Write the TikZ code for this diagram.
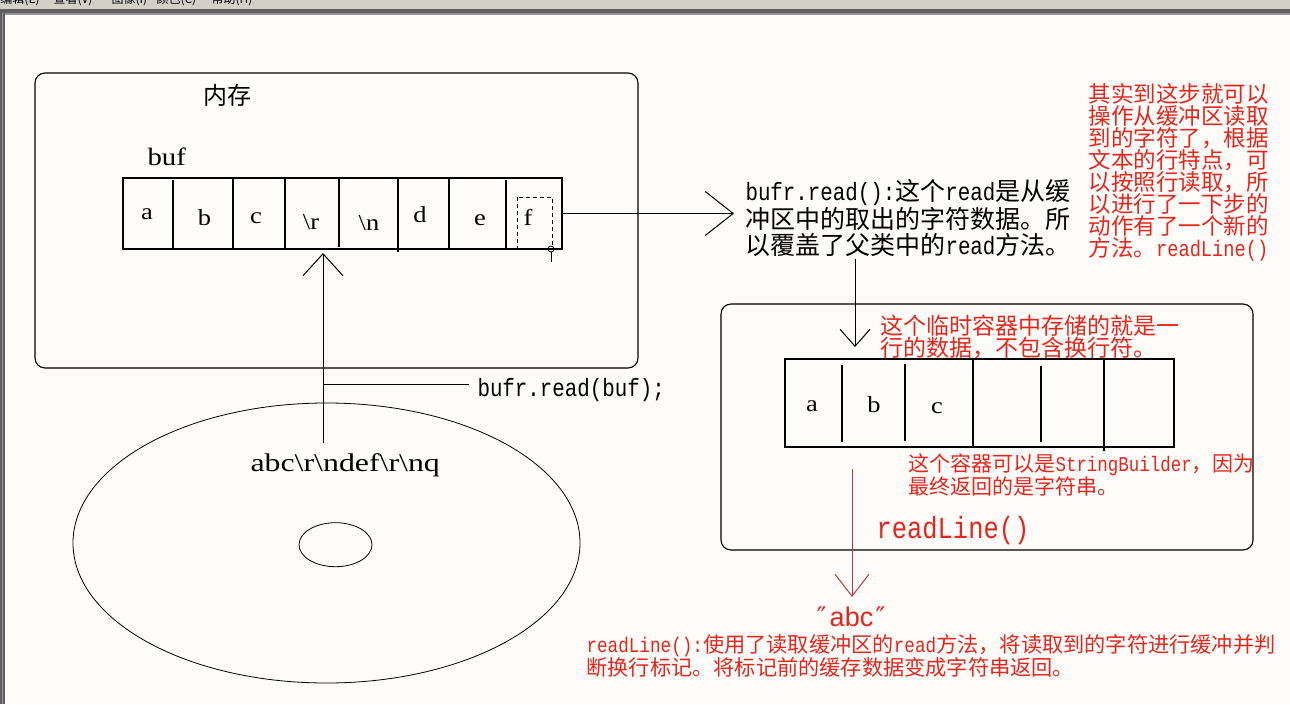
\documentclass[tikz,border=0pt]{standalone}
\usepackage{fontspec}
\usetikzlibrary{shapes.geometric,arrows.meta}
\newfontfamily\cjk{Noto Sans CJK SC}
\newfontfamily\latmono[FakeStretch=0.833]{Liberation Mono}
\newfontfamily\serifL[FakeStretch=1.15]{Liberation Serif}
\newfontfamily\serifW[FakeStretch=1.25]{Liberation Serif}
\newfontfamily\sansL{Liberation Sans}
\newfontfamily\djv{DejaVu Sans}
\newcommand\mlat[1]{{\latmono #1}}
\definecolor{bgc}{RGB}{253,252,249}
\definecolor{barc}{RGB}{212,208,200}
\definecolor{framec}{RGB}{95,95,95}
\definecolor{framel}{RGB}{150,150,150}
\definecolor{redt}{RGB}{228,38,28}
\definecolor{reda}{RGB}{185,55,55}
\begin{document}
\begin{tikzpicture}[x=1pt,y=-1pt,line width=1pt,
  box/.style={draw,rounded corners=10pt,inner sep=0pt,line width=1.1pt},
  cellbox/.style={draw,inner sep=0pt,line width=1.1pt},
  celltxt/.style={anchor=base,inner sep=0pt,font=\serifL\fontsize{23}{23}\selectfont},
  txt/.style={anchor=base west,inner sep=0pt,align=left},
  redtxt/.style={txt,text=redt},
  menu/.style={anchor=base west,inner sep=0pt,font=\cjk\fontsize{12}{12}\selectfont},
  barbA/.style={-{Straight Barb[length=28pt,width=44pt]}},
  barbB/.style={-{Straight Barb[length=22pt,width=40pt]}},
  barbC/.style={-{Straight Barb[length=17pt,width=30pt]}},
  barbD/.style={-{Straight Barb[length=22pt,width=34pt]}},
  divider/.style={line width=1.1pt}
]
% canvas and window frame
\fill[bgc] (0,0) rectangle (1290,704);
\useasboundingbox (0,0) rectangle (1290,704);
\fill[barc] (0,0) rectangle (1290,9);
\begin{scope}
  \clip (0,0) rectangle (1290,9);
  \node[menu] (m1) at (0,4) {编辑(E)};
  \node[menu] (m2) at (53,4) {查看(V)};
  \node[menu] (m3) at (111,4) {图像(I)};
  \node[menu] (m4) at (156,4) {颜色(C)};
  \node[menu] (m5) at (211,4) {帮助(H)};
\end{scope}
\fill[framec] (0,9) rectangle (1290,13);
\fill[framel] (5,13) rectangle (1290,14.5);
\fill[framec] (0,9) rectangle (5,704);
\fill[framel] (1.5,13) rectangle (2.5,704);

% memory box
\node[box,minimum width=603pt,minimum height=295pt] (mem) at (336.5,220.5) {};
\node[txt,font=\cjk\fontsize{24}{24}\selectfont] (memlbl) at (203,104) {内存};
\node[txt,font=\serifL\fontsize{25}{25}\selectfont] (buflbl) at (147,165) {buf};

% buffer
\node[cellbox,minimum width=439pt,minimum height=71pt] (bufbox) at (342.5,213.5) {};
\draw[divider] (173,180) -- (173,248);
\draw[divider] (233,178) -- (233,249);
\draw[divider] (285,178) -- (285,249);
\draw[divider] (339,178) -- (339,247);
\draw[divider] (398,178) -- (398,252);
\draw[divider] (449,178) -- (449,249);
\draw[divider] (506,180) -- (506,248);
\node[celltxt] (ca) at (147,219) {a};
\node[celltxt] (cb) at (204.5,225) {b};
\node[celltxt] (cc) at (256,223) {c};
\node[celltxt] (cr) at (311,229) {\textbackslash r};
\node[celltxt] (cn) at (369,230) {\textbackslash n};
\node[celltxt] (cd) at (420,222) {d};
\node[celltxt] (ce) at (480,225) {e};
\node[celltxt] (cf) at (528,225) {f};
\draw[dash pattern=on 4pt off 3pt,line width=1pt] (517,197) rectangle (552,249);
\draw[line width=0.8pt] (551,249) circle (3);
\draw[line width=0.8pt] (551,252) -- (551,262);

% arrow to explanation
\coordinate (a1e) at (734,213.5);
\draw[barbA] (bufbox.east) -- (a1e);
\node[txt,font=\cjk\fontsize{25}{26}\selectfont] (expl) at (745,254)
  {\mlat{bufr.read():}这个\mlat{read}是从缓\\冲区中的取出的字符数据。所\\以覆盖了父类中的\mlat{read}方法。};

% red note right
\node[redtxt,font=\cjk\fontsize{22.5}{22}\selectfont] (note1) at (1088,256)
  {其实到这步就可以\\操作从缓冲区读取\\到的字符了，根据\\文本的行特点，可\\以按照行读取，所\\以进行了一下步的\\动作有了一个新的\\方法。\mlat{readLine()}};

% disk
\node[draw,ellipse,inner sep=0pt,line width=0.8pt,minimum width=507pt,minimum height=280pt] (disk) at (326.5,543) {};
\node[draw,ellipse,inner sep=0pt,line width=0.8pt,minimum width=73pt,minimum height=44pt] (hole) at (335.5,544.7) {};
\node[txt,font=\serifW\fontsize{25.5}{25.5}\selectfont] (disktxt) at (250,471)
  {abc\textbackslash r\textbackslash ndef\textbackslash r\textbackslash nq};

% read from disk into buffer
\coordinate (upS) at (323,443);
\coordinate (upE) at (323,253);
\draw[barbB] (upS) -- (upE);
\node[txt,font=\cjk\fontsize{25}{25}\selectfont] (readbuf) at (477,396) {\mlat{bufr.read(buf);}};
\coordinate (brS) at (323,384);
\draw (brS) -- ([xshift=-8pt]readbuf.west |- brS);

% temp container box
\node[box,minimum width=532pt,minimum height=246pt] (tmpbox) at (987,427) {};
\coordinate (d1s) at (855,259);
\coordinate (d1e) at (855,347);
\draw[barbC] (d1s) -- (d1e);
\node[redtxt,font=\cjk\fontsize{23}{22}\selectfont] (note2) at (880,356.5)
  {这个临时容器中存储的就是一\\行的数据，不包含换行符。};
\node[cellbox,minimum width=389pt,minimum height=88pt] (cont) at (979.5,403) {};
\draw[divider] (842,365) -- (842,442);
\draw[divider] (905,364) -- (905,441);
\draw[divider] (973,359) -- (973,447);
\draw[divider] (1041,366) -- (1041,442);
\draw[divider] (1104,359) -- (1104,451);
\node[celltxt] (ta) at (812,411) {a};
\node[celltxt] (tb) at (874,412) {b};
\node[celltxt] (tc) at (937,413) {c};
\node[redtxt,font=\cjk\fontsize{21}{20}\selectfont] (note3) at (908,494.5)
  {这个容器可以是\mlat{StringBuilder}，因为\\最终返回的是字符串。};
\node[redtxt,font=\latmono\fontsize{30.6}{30.6}\selectfont] (rl) at (876,538) {readLine()};

% result
\coordinate (r1s) at (852,469);
\coordinate (r1e) at (852,597);
\draw[barbD,reda] (r1s) -- (r1e);
\node[anchor=base,inner sep=0pt,text=redt,font=\sansL\fontsize{27}{27}\selectfont] (abc) at (851,626)
  {{\djv ″}\hspace{3pt}abc\hspace{2pt}{\djv ″}};
\node[redtxt,font=\cjk\fontsize{21.2}{19.5}\selectfont] (note4) at (586,675.5)
  {\mlat{readLine():}使用了读取缓冲区的\mlat{read}方法，将读取到的字符进行缓冲并判\\断换行标记。将标记前的缓存数据变成字符串返回。};
\end{tikzpicture}
\end{document}
